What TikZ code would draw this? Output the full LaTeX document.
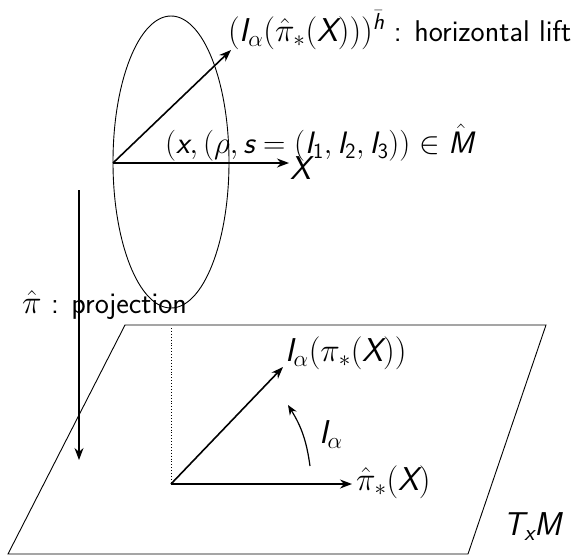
\RequirePackage{fix-cm}
\documentclass[tikz,border=0pt]{standalone}
\usepackage{amsmath}
\usetikzlibrary{arrows.meta}
\renewcommand{\familydefault}{\sfdefault}
\newcommand{\sv}[1]{\text{\normalfont\sffamily\slshape #1}}
\newcommand{\sn}[1]{\text{\normalfont\sffamily #1}}
\newcommand{\txt}[1]{{\fontsize{30}{34}\selectfont #1}}
\begin{document}
\begin{tikzpicture}[x=1pt,y=-1pt,
  thin line/.style={line width=0.9pt},
  vec/.style={line width=1.6pt,-{Stealth[length=12pt,width=9pt]}},
  lbl/.style={inner sep=0pt,font=\fontsize{33}{37}\selectfont\sffamily}]
\useasboundingbox (0,0) rectangle (582,555);
% fibre ellipse
\draw[thin line] (171,162) ellipse [x radius=58, y radius=146];
% tangent plane
\draw[thin line] (125,325) coordinate (p1) -- (546,325) coordinate (p2) -- (468,554) coordinate (p3) -- (8,554) coordinate (p4) -- cycle;
% upper vectors
\coordinate (o1) at (113,163);
\coordinate (x1) at (289,163);
\coordinate (h1) at (231,50);
\draw[vec] (o1) -- (x1);
\draw[vec] (o1) -- (h1);
\node[lbl,anchor=west] (xl) at (290,168) {$\sv{X}$};
\node[lbl,anchor=west] (hl) at (228,30) {$(\sv{I}_\alpha(\hat\pi_*(\sv{X})))^{\bar{\sv{h}}}$\txt{ : horizontal lift}};
\node[lbl,anchor=west,font=\fontsize{31}{35}\selectfont\sffamily] (pt) at (165,143) {$(\sv{x},(\rho,\sv{s}=(\sv{I}_{\sn{1}},\sv{I}_{\sn{2}},\sv{I}_{\sn{3}}))\in\hat{\sv{M}}$};
% projection
\coordinate (pa) at (79,190);
\coordinate (pb) at (79,460);
\draw[line width=1.2pt,-{Stealth[length=12pt,width=9pt]}] (pa) -- (pb);
\node[lbl,anchor=west] (pl) at (22,305) {$\hat\pi$\txt{ : projection}};
% lower vectors
\coordinate (o2) at (171,484);
\coordinate (x2) at (352,484);
\coordinate (i2) at (283,367);
\draw[thin line,dotted] (171,328) -- (o2);
\draw[vec] (o2) -- (x2);
\draw[vec] (o2) -- (i2);
\node[lbl,anchor=west] (xl2) at (356,482) {$\hat\pi_*(\sv{X})$};
\node[lbl,anchor=west] (il2) at (285,353) {$\sv{I}_\alpha(\pi_*(\sv{X}))$};
\coordinate (ca) at (310,466);
\coordinate (cb) at (288,405);
\draw[line width=1.2pt,-{Stealth[length=10pt,width=8pt]}] (ca) to[bend right=12] (cb);
\node[lbl,anchor=west] (al) at (319,435) {$\sv{I}_\alpha$};
\node[lbl,anchor=west] (tm) at (503,527) {$\sv{T}_{\sv{x}}\sv{M}$};
\end{tikzpicture}
\end{document}
